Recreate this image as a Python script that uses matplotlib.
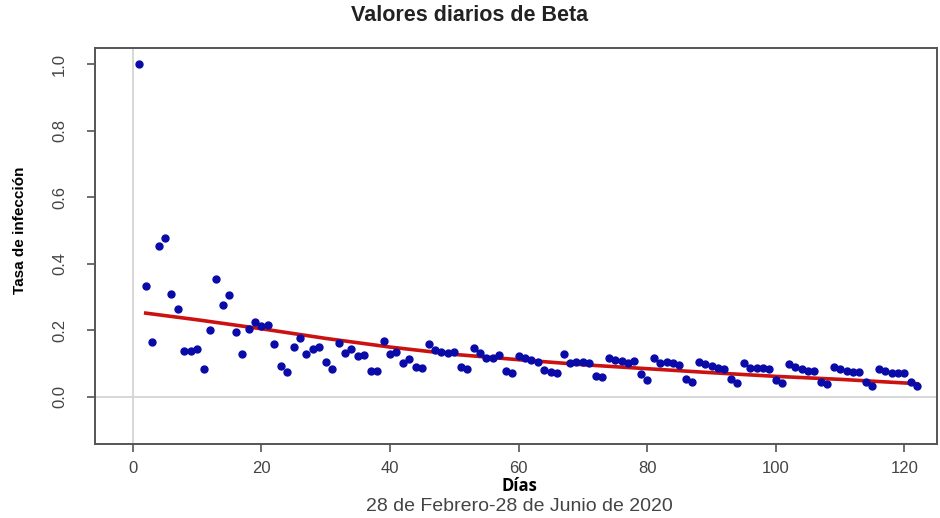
import matplotlib
matplotlib.use("Agg")
from matplotlib import pyplot as plt

# daily beta values, days 1..122
dias = list(range(1, 123))
beta = [1.0, 0.332, 0.166, 0.455, 0.477, 0.31, 0.264, 0.138, 0.138, 0.144,
        0.084, 0.202, 0.354, 0.277, 0.307, 0.196, 0.128, 0.205, 0.226, 0.212,
        0.215, 0.16, 0.093, 0.074, 0.15, 0.178, 0.128, 0.143, 0.149, 0.104,
        0.084, 0.161, 0.133, 0.144, 0.122, 0.125, 0.079, 0.079, 0.169, 0.128,
        0.134, 0.103, 0.114, 0.089, 0.086, 0.159, 0.141, 0.136, 0.131, 0.136,
        0.091, 0.084, 0.147, 0.133, 0.118, 0.118, 0.126, 0.079, 0.073, 0.123,
        0.118, 0.111, 0.104, 0.081, 0.076, 0.071, 0.128, 0.103, 0.106, 0.106,
        0.101, 0.064, 0.061, 0.116, 0.111, 0.108, 0.101, 0.109, 0.069, 0.051,
        0.118, 0.101, 0.104, 0.101, 0.096, 0.054, 0.046, 0.106, 0.098, 0.093,
        0.086, 0.084, 0.054, 0.041, 0.101, 0.087, 0.088, 0.086, 0.084, 0.051,
        0.041, 0.099, 0.089, 0.083, 0.078, 0.078, 0.046, 0.038, 0.091, 0.084,
        0.079, 0.076, 0.074, 0.046, 0.034, 0.083, 0.078, 0.073, 0.073, 0.073,
        0.046, 0.034]

# red trend curve
ajuste_dias = [2, 10, 20, 30, 40, 50, 60, 70, 80, 90, 100, 110, 122]
ajuste_beta = [0.252, 0.232, 0.205, 0.176, 0.150, 0.128, 0.112, 0.097,
               0.085, 0.073, 0.062, 0.053, 0.040]

xticks = [0, 20, 40, 60, 80, 100, 120]
yticks = [0.0, 0.2, 0.4, 0.6, 0.8, 1.0]

plt.rcParams['font.family'] = ['Liberation Sans', 'DejaVu Sans']

fig = plt.figure(figsize=(9.4, 5.18), dpi=100)
ax = fig.add_axes([0.101, 0.143, 0.896, 0.764])

# light reference lines at zero
ax.axhline(0, color='#d4d4d4', lw=1.3, zorder=0)
ax.axvline(0, color='#d4d4d4', lw=1.3, zorder=0)

ax.plot(dias, beta, 'o', color='#0a0aa8', markersize=5, zorder=3)
ax.plot(ajuste_dias, ajuste_beta, color='#cc1111', lw=2.6, zorder=2)

ax.set_xlim(-5.9, 125.1)
ax.set_ylim(-0.141, 1.048)
ax.set_xticks(xticks)
ax.set_yticks(yticks)
ax.set_yticklabels(['%.1f' % v for v in yticks], rotation=90, va='center')

for s in ax.spines.values():
    s.set_color('#555555')
    s.set_linewidth(1.4)
ax.tick_params(axis='both', colors='#555555', labelcolor='#444444',
               length=6, width=1.2, labelsize=12)
ax.tick_params(axis='x', pad=6)
ax.tick_params(axis='y', pad=14)

fig.text(0.5, 0.971, 'Valores diarios de Beta', ha='center', va='center',
         fontsize=15.5, fontweight='bold', color='#222222')
fig.text(0.021, 0.556, 'Tasa de infección', rotation=90, ha='center', va='center',
         fontsize=11, fontweight='bold')
fig.text(0.553, 0.062, 'Días', ha='center', va='center', fontsize=12,
         fontweight='bold', family=['Open Sans', 'DejaVu Sans'])
fig.text(0.553, 0.022, '28 de Febrero-28 de Junio de 2020', ha='center', va='center',
         fontsize=14, color='#444444')

plt.savefig('out.png', dpi=100)
